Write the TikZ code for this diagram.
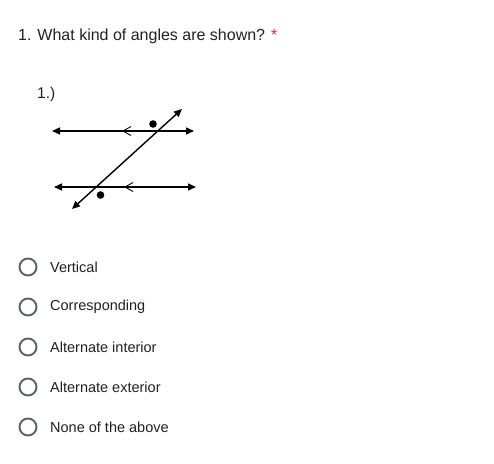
\documentclass[tikz,border=0pt]{standalone}
\usepackage{fontspec}
\setmainfont{Liberation Sans}
\usepackage{tikz}
\usetikzlibrary{arrows.meta}
\definecolor{formtext}{HTML}{202124}
\definecolor{radiogray}{HTML}{5F6368}
\definecolor{formred}{HTML}{D93025}

\begin{document}
\begin{tikzpicture}[x=1pt,y=-1pt,
			every node/.style={inner sep=0pt,anchor=west,text=formtext},
			line/.style={draw=black,line width=1.4pt,{Triangle[length=8pt,width=7pt]}-{Triangle[length=8pt,width=7pt]}},
			chevron/.style={draw=black,line width=0.9pt},
			radio/.style={draw=radiogray,line width=1.9pt,circle,minimum size=17pt,anchor=center},
			choice/.style={font=\fontsize{14.5}{16}\selectfont}]
			\useasboundingbox (0,0) rectangle (494,463);
			
			% question
			\node (q) at (18,36) {\fontsize{16}{18}\selectfont 1. What kind of angles are shown? \textcolor{formred}{*}};
			\node (num) at (37,94) {\fontsize{15.5}{17}\selectfont 1.)};
			
			% parallel lines and transversal
			\coordinate (a1) at (52,131);
			\coordinate (a2) at (194,131);
			\coordinate (b1) at (54,187);
			\coordinate (b2) at (196,187);
			\coordinate (t1) at (72,209);
			\coordinate (t2) at (182,109);
			\draw[line] (a1) -- (a2);
			\draw[line] (b1) -- (b2);
			\draw[line] (t1) -- (t2);
			\draw[chevron] (131,126.5) -- (123,131) -- (131,135.5);
			\draw[chevron] (133,182.5) -- (125,187) -- (133,191.5);
			\fill (153,124) circle (3.8);
			\fill (100.5,195) circle (3.8);
			
			% answers
			\foreach \y/\txt [count=\i] in {267/Vertical,307/Corresponding,347/Alternate interior,387/Alternate exterior,427/None of the above}{
				\node[radio] (r\i) at (28,\y) {};
				\node[choice] (c\i) at (50,\y) {\txt};
			}
		\end{tikzpicture}
\end{document}
